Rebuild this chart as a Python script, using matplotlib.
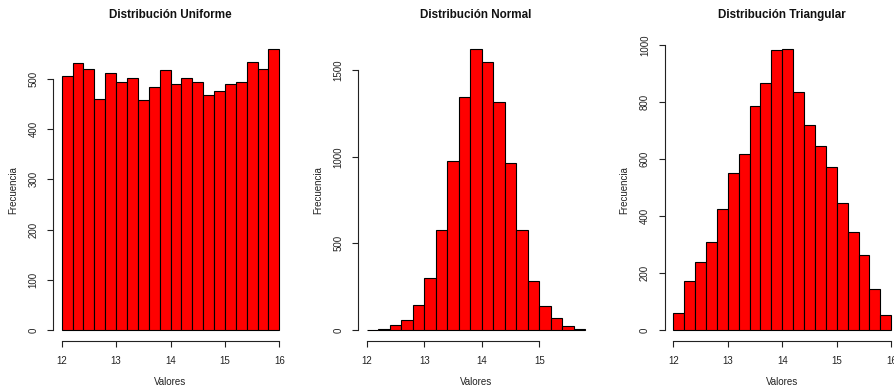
import numpy as np
import matplotlib
matplotlib.use("Agg")
import matplotlib.pyplot as plt

plt.rcParams['font.family'] = ['Liberation Sans', 'DejaVu Sans']

# ---- data (bin edges and counts) ----
uniform_edges = [12.0, 12.2, 12.4, 12.6, 12.8, 13.0, 13.2, 13.4, 13.6, 13.8, 14.0,
                 14.2, 14.4, 14.6, 14.8, 15.0, 15.2, 15.4, 15.6, 15.8, 16.0]
uniform_counts = [506, 531, 519, 459, 511, 493, 501, 457, 483, 517,
                  490, 501, 493, 468, 475, 490, 493, 533, 519, 559]

normal_edges = [12.0, 12.2, 12.4, 12.6, 12.8, 13.0, 13.2, 13.4, 13.6, 13.8, 14.0,
                14.2, 14.4, 14.6, 14.8, 15.0, 15.2, 15.4, 15.6, 15.8]
normal_counts = [1, 4, 29, 58, 146, 302, 577, 973, 1346, 1621,
                 1550, 1315, 962, 577, 283, 140, 69, 23, 6]

tri_edges = [12.0, 12.2, 12.4, 12.6, 12.8, 13.0, 13.2, 13.4, 13.6, 13.8, 14.0,
             14.2, 14.4, 14.6, 14.8, 15.0, 15.2, 15.4, 15.6, 15.8, 16.0]
tri_counts = [60, 171, 237, 310, 423, 549, 616, 786, 868, 981,
              985, 836, 719, 644, 572, 445, 344, 262, 142, 54]

titles = ["Distribución Uniforme", "Distribución Normal", "Distribución Triangular"]
xticks_list = [[12, 13, 14, 15, 16], [12, 13, 14, 15], [12, 13, 14, 15, 16]]
yticks_list = [[0, 100, 200, 300, 400, 500], [0, 500, 1000, 1500],
               [0, 200, 400, 600, 800, 1000]]
xlabel = "Valores"
ylabel = "Frecuencia"

W, H = 894, 388
fig = plt.figure(figsize=(W / 100, H / 100), dpi=100)

bottom_px, top_px = 341.2, 38.0
lefts_px = [53.0, 358.0, 664.5]
widths_px = [235.0, 236.0, 235.5]

datasets = [(uniform_edges, uniform_counts), (normal_edges, normal_counts),
            (tri_edges, tri_counts)]

for i, (edges, counts) in enumerate(datasets):
    ax = fig.add_axes([lefts_px[i] / W, 1 - bottom_px / H,
                       widths_px[i] / W, (bottom_px - top_px) / H])
    edges = np.asarray(edges)
    counts = np.asarray(counts)
    ax.bar(edges[:-1], counts, width=np.diff(edges), align='edge',
           color='#FF0000', edgecolor='black', linewidth=0.8)
    lo, hi = edges[0], edges[-1]
    r = hi - lo
    ax.set_xlim(lo - 0.04 * r, hi + 0.04 * r)
    m = counts.max()
    ax.set_ylim(-0.04 * m, 1.04 * m)
    for s in ['top', 'right']:
        ax.spines[s].set_visible(False)
    xt = xticks_list[i]
    yt = yticks_list[i]
    ax.spines['bottom'].set_bounds(xt[0], xt[-1])
    ax.spines['left'].set_bounds(yt[0], yt[-1])
    for s in ['bottom', 'left']:
        ax.spines[s].set_linewidth(0.8)
        ax.spines[s].set_color('#222222')
    ax.set_xticks(xt)
    ax.set_yticks(yt)
    ax.tick_params(axis='both', length=4, width=0.8, color='#222222',
                   labelsize=7, labelcolor='#222222', pad=6.5)
    ax.tick_params(axis='y', labelrotation=90)
    for lab in ax.get_yticklabels():
        lab.set_va('center')
    ax.set_xlabel(xlabel, fontsize=7, color='#222222', va='center')
    ax.set_ylabel(ylabel, fontsize=7, color='#222222', va='center')
    ax.xaxis.set_label_coords(0.5, (bottom_px - 381.7) / (bottom_px - top_px))
    ax.yaxis.set_label_coords((13.5 - lefts_px[i]) / widths_px[i] + 0.0, 0.5)
    ax.text(0.5, (bottom_px - 15.0) / (bottom_px - top_px), titles[i],
            transform=ax.transAxes, ha='center', va='center',
            fontsize=8.4, fontweight='bold', color='#111111')

# y-label x positions relative to each panel
fig.axes[1].yaxis.set_label_coords((318.5 - 358.0) / 236.0, 0.5)
fig.axes[2].yaxis.set_label_coords((624.5 - 664.5) / 235.5, 0.5)

fig.savefig("out.png", dpi=100)
